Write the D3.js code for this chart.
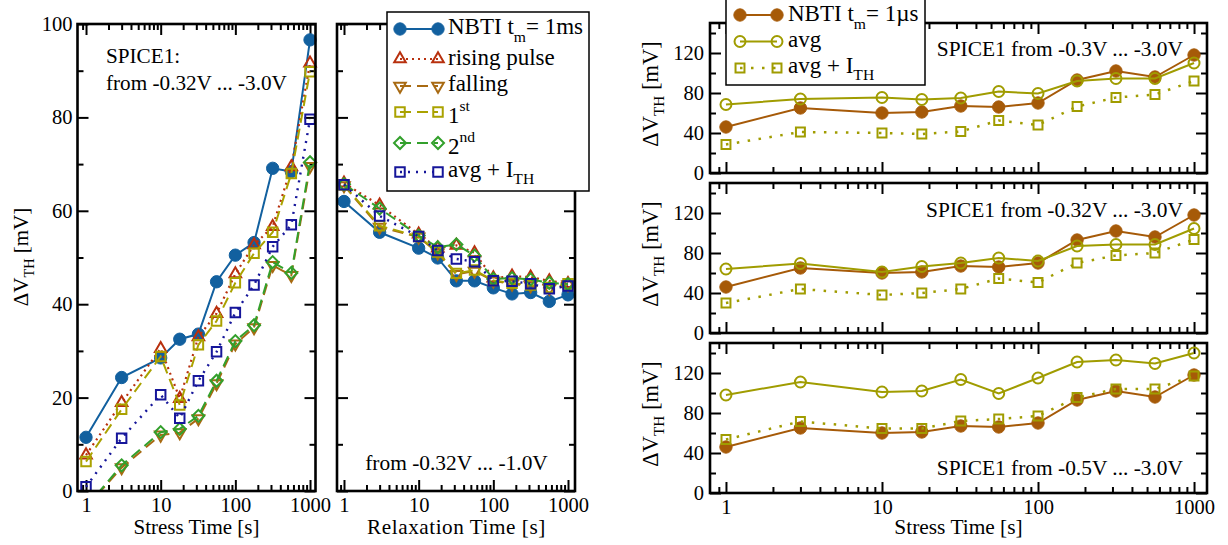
<!DOCTYPE html>
<html>
<head>
<meta charset="utf-8">
<script src="https://cdn.jsdelivr.net/npm/d3@7"></script>
<style>
  html, body { margin: 0; padding: 0; background: #fff; }
  svg { display: block; }
  svg text { font-family: 'Liberation Serif', 'Times New Roman', 'DejaVu Serif', serif; }
</style>
</head>
<body>
<svg id="chart" width="1228" height="545"></svg>
<script>
// ---------------- data ----------------
const times = [1, 3, 10, 18, 32, 56, 100, 178, 316, 562, 1000];

// stress phase, SPICE1 from -0.32V ... -3.0V  [mV]
const stressNbti1ms = [11.5, 24.3, 28.5, 32.5, 33.6, 44.8, 50.5, 53.2, 69.1, 68.4, 96.6];
const stressRising  = [7.7, 18.9, 30.5, 19.8, 33.0, 38.0, 46.5, 52.7, 56.6, 69.4, 91.6];
const stressFalling = [-3.5, 5.0, 12.0, 12.5, 15.5, 23.0, 31.5, 35.0, 48.3, 46.2, 69.5];
const stressFirst   = [6.3, 17.5, 28.8, 18.4, 31.3, 36.4, 44.6, 50.9, 55.4, 68.0, 89.8];
const stressSecond  = [-3.5, 5.5, 12.6, 13.3, 16.1, 23.6, 32.1, 35.5, 49.0, 46.7, 70.4];
const stressAvgIth  = [0.9, 11.3, 20.6, 15.6, 23.6, 29.8, 38.2, 44.1, 52.3, 57.0, 79.6];

// relaxation phase, from -0.32V ... -1.0V  [mV]
const relaxNbti1ms = [62.0, 55.4, 52.0, 49.9, 45.0, 45.0, 43.5, 42.2, 42.5, 40.6, 42.0];
const relaxRising  = [65.9, 61.2, 55.0, 52.0, 52.6, 51.0, 45.6, 46.0, 45.8, 45.0, 44.4];
const relaxFalling = [65.4, 56.5, 54.4, 51.0, 46.4, 47.1, 45.0, 44.3, 44.0, 43.4, 44.2];
const relaxFirst   = [65.5, 56.8, 54.5, 51.2, 46.6, 47.3, 45.1, 44.5, 44.1, 43.6, 44.4];
const relaxSecond  = [65.7, 60.5, 54.7, 52.2, 52.8, 50.4, 45.4, 45.6, 45.3, 44.6, 44.3];
const relaxAvgIth  = [65.6, 58.9, 54.5, 51.5, 49.7, 49.1, 45.0, 44.9, 44.4, 43.3, 43.9];

// NBTI with t_m = 1us and the SPICE1 averages for three voltage ranges [mV]
const nbti1us      = [46, 65, 60, 61, 67, 66, 70, 93, 102, 96, 118];
const avg03        = [68.5, 74, 75.5, 73.5, 75, 81.5, 79.5, 92, 94.5, 94.5, 110];
const avgIth03     = [28.5, 41, 40, 39, 41.5, 52.5, 48, 66.5, 75.5, 78.5, 92];
const avg032       = [64, 69.5, 61, 66.5, 70, 75, 72, 87, 88.5, 88.5, 104.5];
const avgIth032    = [30, 44, 38, 40, 44, 54.5, 50.5, 70, 77.5, 80, 93.5];
const avg05        = [98, 111, 101, 102, 113.5, 99.5, 115, 131, 133, 129.5, 140];
const avgIth05     = [53.5, 71.5, 64.5, 64.5, 72, 74, 77, 95.5, 104, 104, 117];

// tick values
const decadeTicks = [1, 10, 100, 1000];
const leftMajorY  = [0, 20, 40, 60, 80, 100];
const leftMinorY  = [10, 30, 50, 70, 90];
const rightMajorY = [0, 40, 80, 120];
const rightMinorY = [20, 60, 100, 140];

// ---------------- styling ----------------
const COL = {
  nbti1ms: '#12609f',
  rising:  '#b8300e',
  falling: '#a86a12',
  first:   '#aaa200',
  second:  '#33a02c',
  avgIthL: '#16169a',
  nbti1us: '#a65a08',
  avgR:    '#a09c00'
};

const svg = d3.select('#chart');

const sym = {
  circleFill: { path: d3.symbol(d3.symbolCircle, Math.PI * 38)(), rot: 0, filled: true },
  circleOpen: { path: d3.symbol(d3.symbolCircle, Math.PI * 30)(), rot: 0, filled: false },
  triUp:      { path: d3.symbol(d3.symbolTriangle, 58)(), rot: 0, filled: false },
  triDown:    { path: d3.symbol(d3.symbolTriangle, 58)(), rot: 180, filled: false },
  square:     { path: d3.symbol(d3.symbolSquare, 90)(), rot: 0, filled: false },
  squareS:    { path: d3.symbol(d3.symbolSquare, 80)(), rot: 0, filled: false },
  diamond:    { path: d3.symbol(d3.symbolSquare, 72)(), rot: 45, filled: false }
};

function logMinor(domain) {
  const out = [];
  for (let e = -1; e <= 3; e++) {
    for (let m = 2; m <= 9; m++) {
      const v = m * Math.pow(10, e);
      if (v > domain[0] * 1.06 && v < domain[1] / 1.06) out.push(v);
    }
  }
  return out;
}

let clipCount = 0;
function panel(x, y, opts) {
  const [x0, x1] = x.range();
  const [yb, yt] = y.range();
  const g = svg.append('g');
  const xMinor = logMinor(x.domain());
  const tidy = sel => {
    sel.select('.domain').remove();
    sel.attr('font-family', null).attr('font-size', 20.5);
    sel.selectAll('line').attr('stroke', '#000').attr('stroke-width', 2);
    sel.selectAll('text').attr('fill', '#000');
  };
  const none = () => '';
  g.append('g').attr('transform', `translate(0,${yb})`)
    .call(d3.axisBottom(x).tickValues(decadeTicks).tickSize(-11).tickPadding(6)
      .tickFormat(opts.xLabels ? d3.format('d') : none)).call(tidy);
  g.append('g').attr('transform', `translate(0,${yb})`)
    .call(d3.axisBottom(x).tickValues(xMinor).tickSize(-6).tickFormat(none)).call(tidy);
  g.append('g').attr('transform', `translate(0,${yt})`)
    .call(d3.axisTop(x).tickValues(decadeTicks).tickSize(-11).tickFormat(none)).call(tidy);
  g.append('g').attr('transform', `translate(0,${yt})`)
    .call(d3.axisTop(x).tickValues(xMinor).tickSize(-6).tickFormat(none)).call(tidy);
  g.append('g').attr('transform', `translate(${x0},0)`)
    .call(d3.axisLeft(y).tickValues(opts.yMajor).tickSize(-11).tickPadding(opts.yPad || 5)
      .tickFormat(opts.yLabels ? d3.format('d') : none)).call(tidy);
  g.append('g').attr('transform', `translate(${x0},0)`)
    .call(d3.axisLeft(y).tickValues(opts.yMinor).tickSize(-6).tickFormat(none)).call(tidy);
  g.append('g').attr('transform', `translate(${x1},0)`)
    .call(d3.axisRight(y).tickValues(opts.yMajor).tickSize(-11).tickFormat(none)).call(tidy);
  g.append('g').attr('transform', `translate(${x1},0)`)
    .call(d3.axisRight(y).tickValues(opts.yMinor).tickSize(-6).tickFormat(none)).call(tidy);

  const id = 'clip' + (clipCount++);
  svg.append('clipPath').attr('id', id).append('rect')
    .attr('x', x0 - 8).attr('y', yt - 1).attr('width', x1 - x0 + 16).attr('height', yb - yt + 2);
  const plot = g.append('g').attr('clip-path', `url(#${id})`);
  const frame = () => g.append('rect')
    .attr('x', x0).attr('y', yt).attr('width', x1 - x0).attr('height', yb - yt)
    .attr('fill', 'none').attr('stroke', '#000').attr('stroke-width', 2.6);
  return { g, plot, frame };
}

function drawMarker(sel, s, color) {
  sel.attr('d', s.path)
    .attr('fill', s.filled ? color : 'none')
    .attr('stroke', color)
    .attr('stroke-width', s.filled ? 1 : 2);
}

function series(plot, x, y, values, st) {
  const line = d3.line().x((d, i) => x(times[i])).y(d => y(d));
  plot.append('path').datum(values).attr('d', line)
    .attr('fill', 'none').attr('stroke', st.color).attr('stroke-width', st.width || 2)
    .attr('stroke-dasharray', st.dash || null);
  plot.append('g').selectAll('path').data(values).join('path')
    .attr('transform', (d, i) => `translate(${x(times[i])},${y(d)}) rotate(${st.sym.rot})`)
    .call(drawMarker, st.sym, st.color);
}

// series styles
const stNbti1ms = { color: COL.nbti1ms, sym: sym.circleFill, width: 2 };
const stRising  = { color: COL.rising,  sym: sym.triUp,   dash: '2,4', width: 2.2 };
const stFalling = { color: COL.falling, sym: sym.triDown, dash: '11,6' };
const stFirst   = { color: COL.first,   sym: sym.square,  dash: '11,6' };
const stSecond  = { color: COL.second,  sym: sym.diamond, dash: '11,6' };
const stAvgIthL = { color: COL.avgIthL, sym: sym.square,  dash: '2,6', width: 2.4 };
const stNbti1us = { color: COL.nbti1us, sym: sym.circleFill, width: 2 };
const stAvgR    = { color: COL.avgR,    sym: sym.circleOpen, width: 2 };
const stAvgIthR = { color: COL.avgR,    sym: sym.squareS, dash: '2.5,8.5', width: 2.5 };

// ---------------- stress panel ----------------
const xStress = d3.scaleLog().domain([0.769, 1184]).range([77.5, 315.5]);
const yLeft = d3.scaleLinear().domain([0, 100]).range([491, 24]);
const pStress = panel(xStress, yLeft, { xLabels: true, yLabels: true, yMajor: leftMajorY, yMinor: leftMinorY, yPad: 5 });
[[stressNbti1ms, stNbti1ms], [stressRising, stRising], [stressFalling, stFalling],
 [stressFirst, stFirst], [stressSecond, stSecond], [stressAvgIth, stAvgIthL]]
  .forEach(([v, s]) => series(pStress.plot, xStress, yLeft, v, s));
pStress.frame();

// ---------------- relaxation panel ----------------
const xRelax = d3.scaleLog().domain([0.806, 1241]).range([337, 575]);
const pRelax = panel(xRelax, yLeft, { xLabels: true, yLabels: false, yMajor: leftMajorY, yMinor: leftMinorY });
[[relaxNbti1ms, stNbti1ms], [relaxRising, stRising], [relaxFalling, stFalling],
 [relaxFirst, stFirst], [relaxSecond, stSecond], [relaxAvgIth, stAvgIthL]]
  .forEach(([v, s]) => series(pRelax.plot, xRelax, yLeft, v, s));
pRelax.frame();

// ---------------- right column ----------------
const xRight = d3.scaleLog().domain([0.79, 1211]).range([710, 1207]);
const rightRows = [
  { top: 23, bottom: 173, avg: avg03, avgIth: avgIth03 },
  { top: 183, bottom: 333, avg: avg032, avgIth: avgIth032 },
  { top: 343, bottom: 493, avg: avg05, avgIth: avgIth05 }
];
const rightY = rightRows.map(r => d3.scaleLinear().domain([0, 150]).range([r.bottom, r.top]));
rightRows.forEach((r, k) => {
  const p = panel(xRight, rightY[k], { xLabels: k === 2, yLabels: true, yMajor: rightMajorY, yMinor: rightMinorY, yPad: 6 });
  series(p.plot, xRight, rightY[k], nbti1us, stNbti1us);
  series(p.plot, xRight, rightY[k], r.avg, stAvgR);
  series(p.plot, xRight, rightY[k], r.avgIth, stAvgIthR);
  p.frame();
});

// ---------------- texts ----------------
function richText(parent, x, y, parts, size, anchor) {
  const t = parent.append('text').attr('x', x).attr('y', y)
    .attr('font-size', size).attr('fill', '#000').attr('text-anchor', anchor || 'start');
  let shift = 0;
  parts.forEach(p => {
    const kind = p[1] || '';
    const target = kind === 'sub' ? p[2] || 7 : kind === 'sup' ? -(p[2] || 12) : 0;
    const ts = t.append('tspan').text(p[0]).attr('dy', target - shift);
    if (kind) ts.attr('font-size', size * 0.68);
    shift = target;
  });
  return t;
}

function yTitle(x, yc, size) {
  const g = svg.append('g').attr('transform', `translate(${x},${yc}) rotate(-90)`);
  richText(g, 0, 0, [['\u0394V'], ['TH', 'sub', 6], [' [mV]']], size, 'middle');
}
yTitle(27.5, 257, 21);
rightRows.forEach(r => yTitle(658, (r.top + r.bottom) / 2 - 4, 22.5));

function label(x, y, text, size, anchor) {
  return svg.append('text').attr('x', x).attr('y', y).attr('text-anchor', anchor || 'start')
    .attr('font-size', size).attr('fill', '#000').text(text);
}
label(196.5, 534, 'Stress Time [s]', 21, 'middle');
label(456.5, 534, 'Relaxation Time [s]', 21.2, 'middle').attr('letter-spacing', 0.55);
label(958.5, 534, 'Stress Time [s]', 21.4, 'middle');

label(106, 62.5, 'SPICE1:', 21.2);
label(106, 90, 'from -0.32V ... -3.0V', 21.2);
label(456.5, 470, 'from -0.32V ... -1.0V', 21.4, 'middle');

label(1183, 56, 'SPICE1 from -0.3V ... -3.0V', 21.4, 'end');
label(1183, 216.5, 'SPICE1 from -0.32V ... -3.0V', 21.4, 'end');
label(1183, 475, 'SPICE1 from -0.5V ... -3.0V', 21.4, 'end');

// ---------------- legends ----------------
function legend(box, entries, mx0, mx1, tx) {
  const g = svg.append('g');
  g.append('rect').attr('x', box[0]).attr('y', box[1]).attr('width', box[2]).attr('height', box[3])
    .attr('fill', '#fff').attr('stroke', '#000').attr('stroke-width', 1.5);
  entries.forEach(e => {
    g.append('line').attr('x1', mx0).attr('x2', mx1).attr('y1', e.my).attr('y2', e.my)
      .attr('stroke', e.st.color).attr('stroke-width', e.st.width || 2)
      .attr('stroke-dasharray', e.st.dash || null);
    [mx0, mx1].forEach(mx => {
      g.append('path').attr('transform', `translate(${mx},${e.my}) rotate(${e.st.sym.rot})`)
        .call(drawMarker, e.st.sym, e.st.color);
    });
    richText(g, tx, e.ty, e.label, 23);
  });
}

legend([387, 12, 202, 179], [
  { st: stNbti1ms, my: 29,  ty: 34,  label: [['NBTI t'], ['m', 'sub', 8], ['= 1ms']] },
  { st: stRising,  my: 59,  ty: 64.5, label: [['rising pulse']] },
  { st: stFalling, my: 86,  ty: 90.5, label: [['falling']] },
  { st: stFirst,   my: 112, ty: 123, label: [['1'], ['st', 'sup', 12]] },
  { st: stSecond,  my: 143, ty: 154, label: [['2'], ['nd', 'sup', 12]] },
  { st: stAvgIthL, my: 172, ty: 177, label: [['avg + I'], ['TH', 'sub', 7]] }
], 400, 438, 448);

legend([726, -2, 199, 87], [
  { st: stNbti1us, my: 15,   ty: 20.5, label: [['NBTI t'], ['m', 'sub', 8], ['= 1\u00b5s']] },
  { st: stAvgR,    my: 41.5, ty: 46.5, label: [['avg']] },
  { st: stAvgIthR, my: 68,   ty: 72.5, label: [['avg + I'], ['TH', 'sub', 7]] }
], 740, 777, 788);
</script>
</body>
</html>
